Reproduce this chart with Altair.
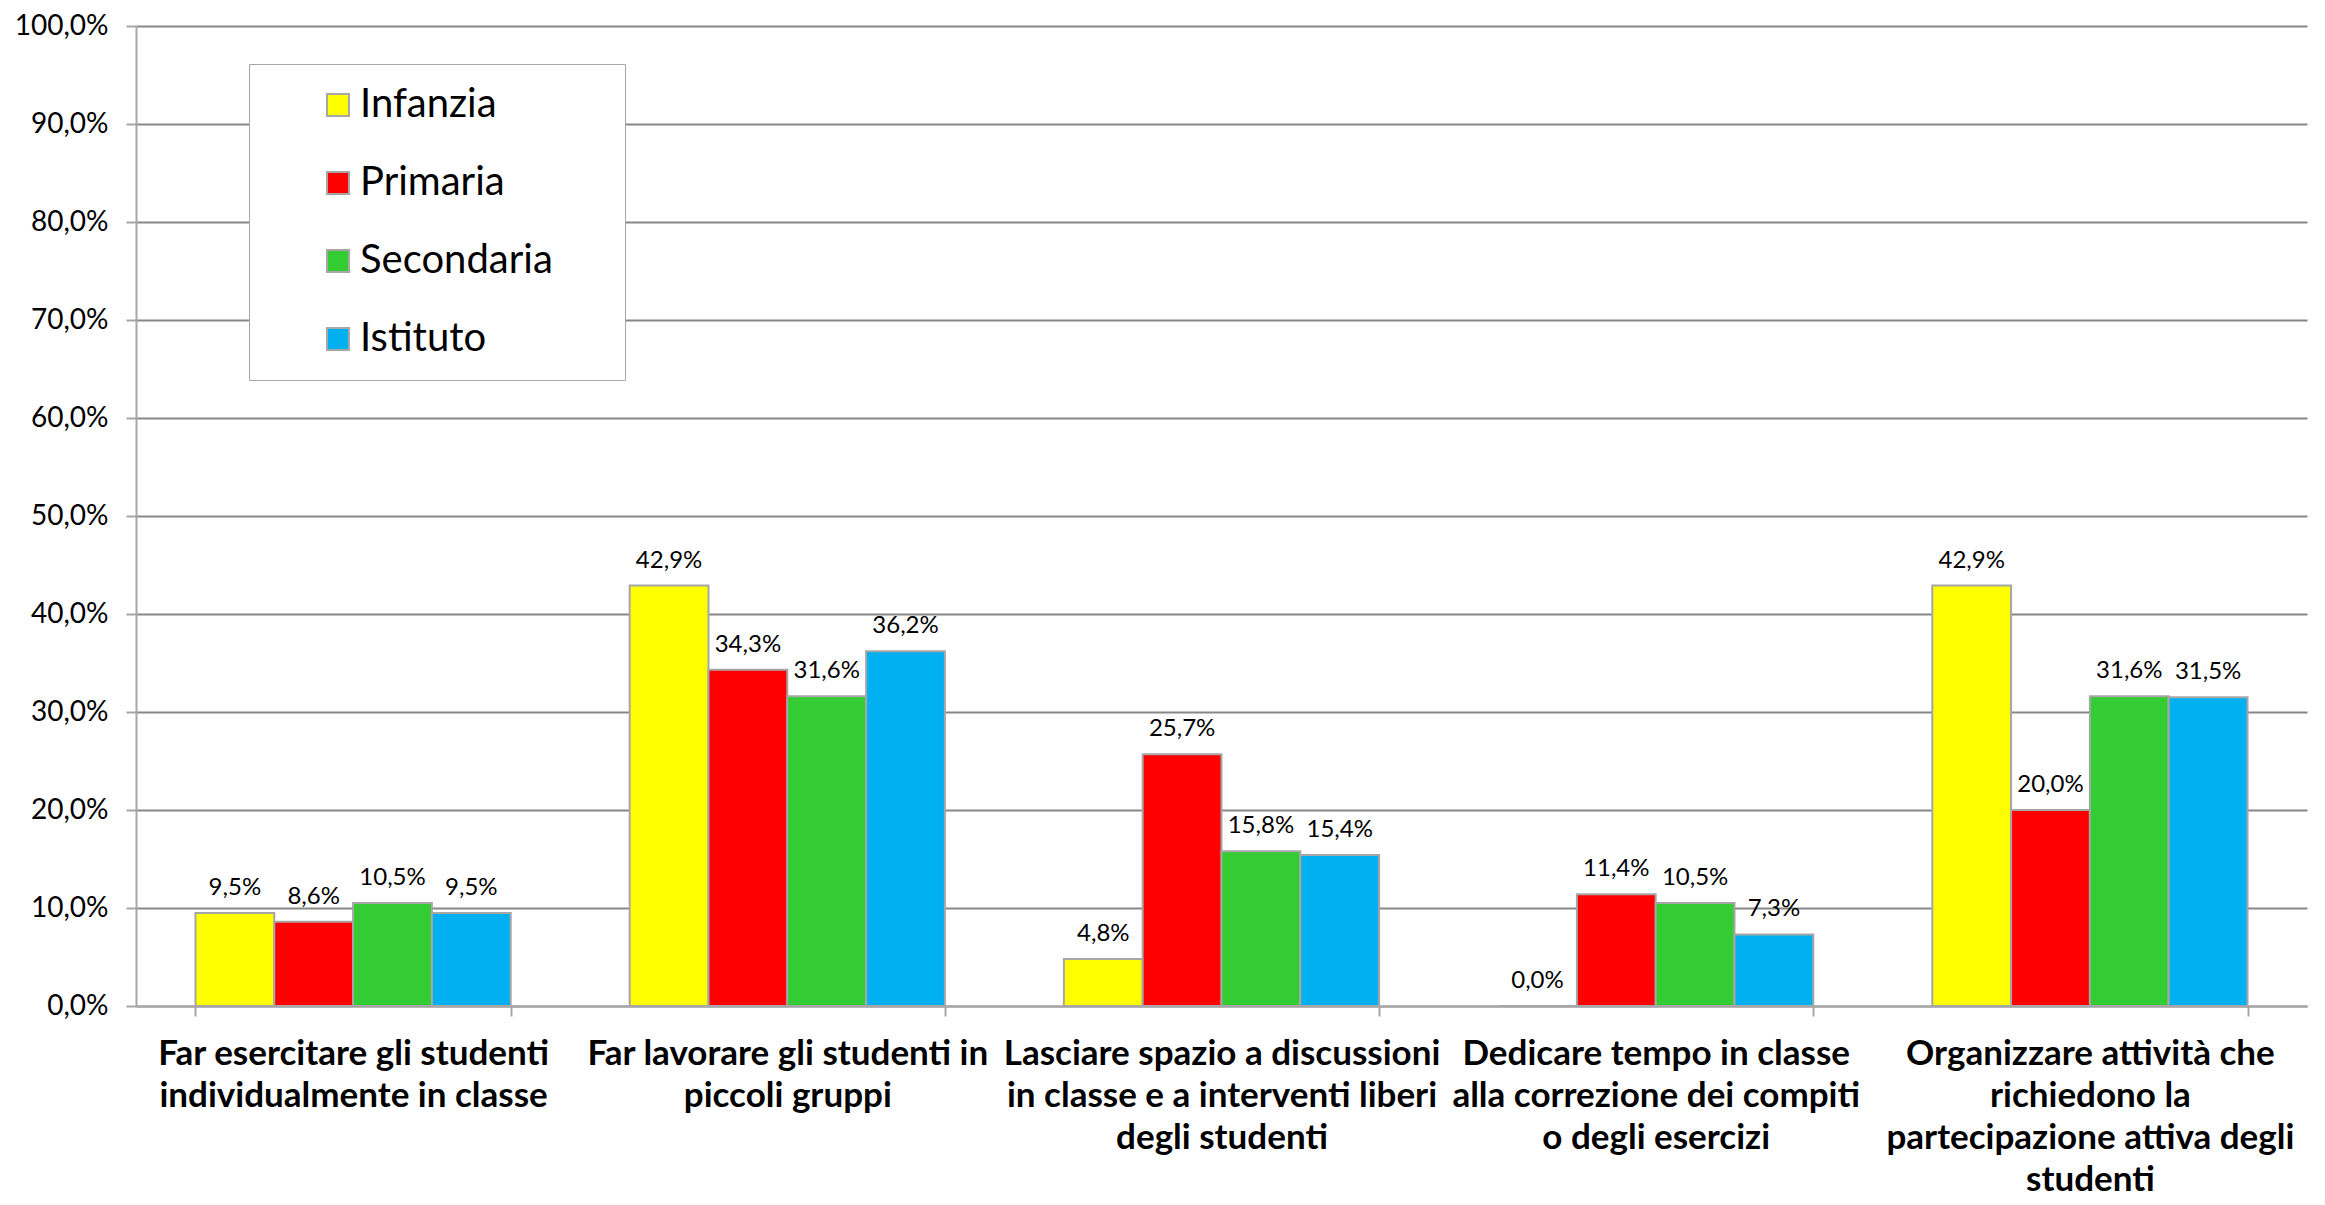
import altair as alt
import pandas as pd

# Categories (line breaks marked with "|")
categories = [
    "Far esercitare gli studenti|individualmente in classe",
    "Far lavorare gli studenti in|piccoli gruppi",
    "Lasciare spazio a discussioni|in classe e a interventi liberi|degli studenti",
    "Dedicare tempo in classe|alla correzione dei compiti|o degli esercizi",
    "Organizzare attività che|richiedono la|partecipazione attiva degli|studenti",
]
series = ["Infanzia", "Primaria", "Secondaria", "Istituto"]
colors = ["#FFFF00", "#FF0000", "#33CC33", "#00B0F0"]

infanzia = [0.095, 0.429, 0.048, 0.000, 0.429]
primaria = [0.086, 0.343, 0.257, 0.114, 0.200]
secondaria = [0.105, 0.316, 0.158, 0.105, 0.316]
istituto = [0.095, 0.362, 0.154, 0.073, 0.315]

y_ticks = [0.0, 0.1, 0.2, 0.3, 0.4, 0.5, 0.6, 0.7, 0.8, 0.9, 1.0]

rows = []
for s, vals in zip(series, [infanzia, primaria, secondaria, istituto]):
    for c, v in zip(categories, vals):
        rows.append({"categoria": c, "serie": s, "valore": v})
df = pd.DataFrame(rows)

FONT = "Lato"
GRID = "#878787"
AXIS = "#A6A6A6"

base = alt.Chart(df).transform_calculate(
    etichetta="replace(format(datum.valore, '.1%'), '.', ',')"
).encode(
    x=alt.X(
        "categoria:N",
        sort=categories,
        scale=alt.Scale(paddingInner=0.274, paddingOuter=0.137),
        axis=alt.Axis(
            title=None,
            labelExpr="split(datum.label, '|')",
            labelFont=FONT,
            labelFontSize=35,
            labelFontWeight="bold",
            labelColor="black",
            labelLineHeight=42,
            labelLimit=700,
            labelPadding=20,
            labelAngle=0,
            labelBaseline="top",
            tickBand="extent",
            tickSize=10,
            tickColor=AXIS,
            tickWidth=2,
            domainColor=AXIS,
            domainWidth=2,
            grid=False,
        ),
    ),
    xOffset=alt.XOffset("serie:N", sort=series, scale=alt.Scale(paddingInner=0, paddingOuter=0)),
    y=alt.Y(
        "valore:Q",
        scale=alt.Scale(domain=[0, 1], nice=False),
        axis=alt.Axis(
            title=None,
            values=y_ticks,
            labelExpr="replace(format(datum.value, '.1%'), '.', ',')",
            labelFont=FONT,
            labelFontSize=28,
            labelColor="black",
            labelPadding=18,
            tickSize=10,
            tickColor=AXIS,
            tickWidth=2,
            domainColor=AXIS,
            domainWidth=2,
            gridColor=GRID,
            gridWidth=2,
        ),
    ),
)

bars = base.mark_bar(stroke="#A6A6A6", strokeWidth=2).encode(
    color=alt.Color(
        "serie:N",
        sort=series,
        scale=alt.Scale(domain=series, range=colors),
        legend=alt.Legend(
            title=None,
            orient="none",
            legendX=113,
            legendY=38,
            fillColor="white",
            strokeColor="#A6A6A6",
            padding=21,
            symbolOffset=48,
            labelOffset=2,
            symbolType="square",
            symbolSize=484,
            symbolStrokeColor="#A6A6A6",
            symbolStrokeWidth=2,
            labelFont=FONT,
            labelFontSize=40,
            labelColor="black",
            labelLimit=500,
            rowPadding=38,
            labelExpr="datum.label + '\u00a0\u00a0\u00a0\u00a0\u00a0\u200b'",
        ),
    )
)

labels = base.mark_text(baseline="middle", dy=-25, font=FONT, fontSize=24, color="black").encode(
    text="etichetta:N"
)

chart = (
    alt.layer(bars, labels)
    .properties(
        width=2171,
        height=980,
        autosize=alt.AutoSizeParams(type="none"),
        padding={"left": 128, "top": 18, "right": 10, "bottom": 191},
        background="white",
    )
    .configure_view(stroke=None)
)

chart.save("out.html", embed_options={"renderer": "svg", "actions": False})
